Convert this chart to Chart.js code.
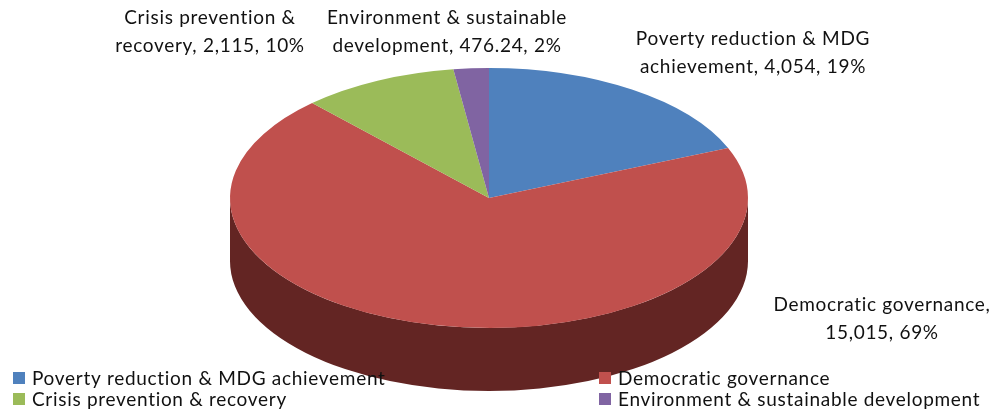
<!DOCTYPE html>
<html><head><meta charset="utf-8">
<style>html,body{margin:0;padding:0;background:#fff}#w{width:996px;height:414px;position:relative}</style>
<script src="https://cdn.jsdelivr.net/npm/chart.js@4"></script></head>
<body><div id="w"><canvas id="c" width="996" height="414"></canvas></div>
<script>
const categories = ["Poverty reduction & MDG achievement","Democratic governance","Crisis prevention & recovery","Environment & sustainable development"];
const values = [4054,15015,2115,476.24];
const colors = ["#4f81bd","#c0504d","#9bbb59","#8064a2"];
const sideColor = "#632523";
const calloutLines = [
 ["Poverty reduction & MDG","achievement, 4,054, 19%"],
 ["Democratic governance,","15,015, 69%"],
 ["Crisis prevention &","recovery, 2,115, 10%"],
 ["Environment & sustainable","development, 476.24, 2%"]];
const calloutPos = [[753,39],[882,305],[210,18],[447,18]];
const legendPos = [[13,379],[599,379],[13,400],[599,400]];
const FONT = '19px Lato';
const SPACING = '0.7px';
const SQUASH = 130/259, DEPTH = 63;

function squash(chart,ctx){
  const m = chart.getDatasetMeta(0).data[0];
  ctx.translate(m.x,m.y); ctx.scale(1,SQUASH); ctx.translate(-m.x,-m.y);
}
const pie3d = {
  id:'pie3d',
  beforeDatasetsDraw(chart){
    const ctx = chart.ctx, a = chart.getDatasetMeta(0).data[0];
    const R = a.outerRadius, ry = R*SQUASH;
    // front wall of the pie, derived from the arc element's own geometry
    ctx.save();
    ctx.fillStyle = sideColor;
    ctx.beginPath();
    ctx.ellipse(a.x,a.y,R,ry,0,0,Math.PI);
    ctx.ellipse(a.x,a.y+DEPTH,R,ry,0,Math.PI,0,true);
    ctx.closePath();
    ctx.fill();
    ctx.restore();
    ctx.save(); squash(chart,ctx);
  },
  afterDatasetsDraw(chart){
    const ctx = chart.ctx; ctx.restore();
    ctx.save();
    ctx.font = FONT; ctx.letterSpacing = SPACING; ctx.fillStyle = '#111'; ctx.textBaseline='middle';
    ctx.textAlign='center';
    calloutLines.forEach((ls,i)=>ls.forEach((t,j)=>ctx.fillText(t,calloutPos[i][0],calloutPos[i][1]+j*28)));
    ctx.textAlign='left';
    categories.forEach((t,i)=>{
      const [x,y]=legendPos[i];
      ctx.fillStyle=colors[i]; ctx.fillRect(x,y-7,12,12);
      ctx.fillStyle='#111'; ctx.fillText(t,x+19,y);
    });
    ctx.restore();
  }
};
new Chart(document.getElementById('c'),{
  type:'pie',
  data:{labels:categories,datasets:[{data:values,backgroundColor:colors,borderWidth:0}]},
  options:{
    responsive:false,animation:false,radius:259,
    layout:{padding:{right:18,bottom:18}},
    plugins:{legend:{display:false},tooltip:{enabled:false}}
  },
  plugins:[pie3d]
});
</script></body></html>
